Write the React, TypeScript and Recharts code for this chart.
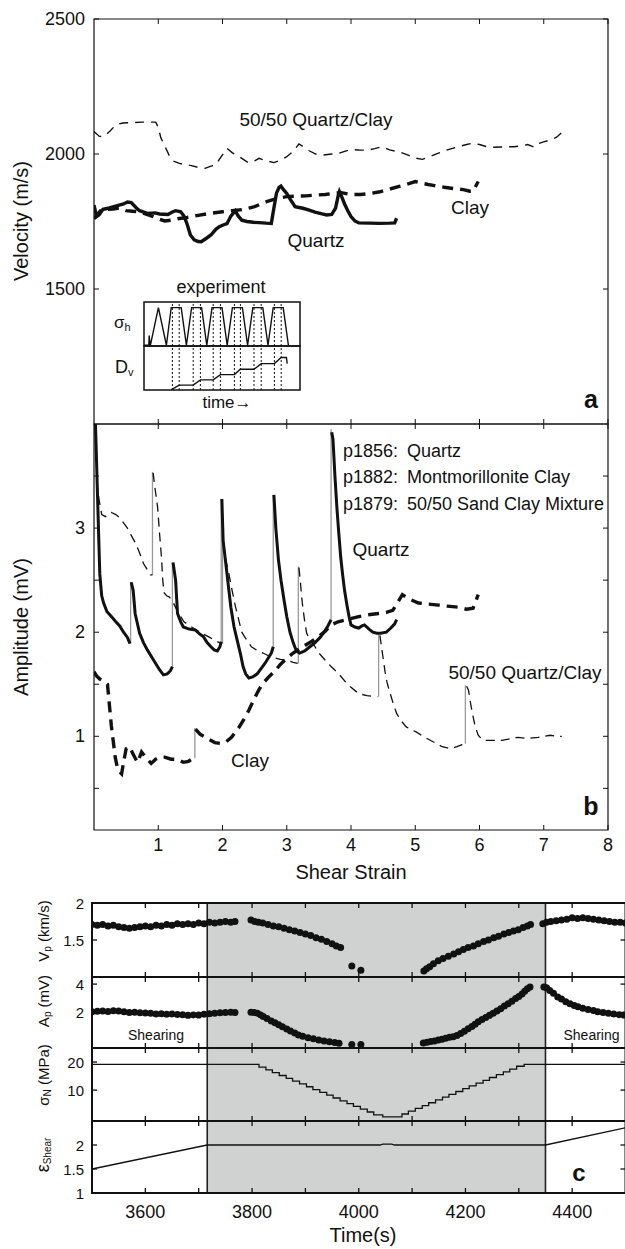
import React from 'react';
import {
  LineChart, Line, Scatter, XAxis, YAxis, ReferenceArea, ReferenceLine,
} from 'recharts';

const FONT = '"Liberation Sans", Arial, Helvetica, sans-serif';
const INK = '#111';
const JUMP = '#999';
const SHADE = '#d0d1d1';

type Pt = [number, number];

// ---------- panel a: velocity vs shear strain ----------
const strainTicks = [1, 2, 3, 4, 5, 6, 7, 8];
const velocityTicks = [1500, 2000, 2500];

const mixVelocity: Pt[] = [[0, 2083], [0.08, 2066], [0.15, 2064], [0.25, 2085], [0.34, 2108], [0.45, 2115], [0.58, 2116], [0.75, 2118], [0.96, 2118], [1.0, 2100], [1.04, 2060], [1.1, 2030], [1.17, 1995], [1.22, 1975], [1.33, 1965], [1.42, 1960], [1.5, 1958], [1.6, 1952], [1.73, 1947], [1.82, 1955], [1.89, 1959], [1.98, 1990], [2.07, 2021], [2.15, 2005], [2.26, 1990], [2.4, 1968], [2.5, 1975], [2.57, 1984], [2.68, 1975], [2.8, 1968], [2.88, 1975], [3.0, 1990], [3.1, 2010], [3.19, 2037], [3.27, 2025], [3.35, 2012], [3.45, 2000], [3.56, 1996], [3.7, 2000], [3.8, 2002], [3.9, 2010], [4.0, 2017], [4.12, 2015], [4.25, 2014], [4.37, 2020], [4.49, 2027], [4.6, 2015], [4.75, 2008], [4.9, 1995], [5.0, 1985], [5.11, 1980], [5.22, 1990], [5.35, 2002], [5.5, 2015], [5.67, 2027], [5.8, 2035], [5.89, 2040], [6.0, 2035], [6.1, 2028], [6.2, 2025], [6.35, 2026], [6.54, 2027], [6.65, 2030], [6.75, 2035], [6.85, 2025], [6.91, 2038], [7.0, 2045], [7.1, 2052], [7.2, 2062], [7.28, 2080], [7.28, 2098]];

const clayVelocity: Pt[] = [[0, 1760], [0.05, 1775], [0.1, 1790], [0.2, 1795], [0.3, 1796], [0.4, 1800], [0.5, 1790], [0.6, 1788], [0.71, 1785], [0.8, 1778], [0.9, 1770], [1.0, 1760], [1.1, 1752], [1.2, 1755], [1.3, 1760], [1.45, 1765], [1.6, 1772], [1.8, 1780], [2.0, 1786], [2.15, 1790], [2.3, 1794], [2.5, 1805], [2.6, 1815], [2.7, 1825], [2.8, 1832], [2.9, 1838], [3.0, 1842], [3.15, 1844], [3.3, 1845], [3.45, 1848], [3.6, 1850], [3.75, 1855], [3.85, 1857], [4.0, 1850], [4.15, 1850], [4.3, 1854], [4.45, 1860], [4.6, 1870], [4.75, 1880], [4.9, 1890], [5.0, 1898], [5.1, 1892], [5.2, 1887], [5.3, 1883], [5.45, 1877], [5.6, 1872], [5.75, 1868], [5.85, 1862], [5.9, 1862], [5.98, 1898]];

const quartzVelocity: Pt[] = [[0, 1811], [0.02, 1790], [0.04, 1768], [0.08, 1775], [0.14, 1795], [0.24, 1800], [0.35, 1808], [0.46, 1815], [0.52, 1822], [0.58, 1820], [0.66, 1800], [0.71, 1790], [0.83, 1780], [0.95, 1782], [1.02, 1778], [1.15, 1776], [1.22, 1785], [1.27, 1790], [1.35, 1786], [1.4, 1770], [1.45, 1740], [1.5, 1700], [1.56, 1682], [1.62, 1676], [1.67, 1675], [1.75, 1688], [1.82, 1700], [1.9, 1722], [1.95, 1731], [2.02, 1738], [2.07, 1742], [2.13, 1770], [2.2, 1790], [2.24, 1772], [2.3, 1755], [2.38, 1750], [2.48, 1747], [2.57, 1746], [2.68, 1744], [2.76, 1743], [2.8, 1800], [2.84, 1855], [2.88, 1876], [2.91, 1881], [2.95, 1868], [3.0, 1854], [3.06, 1830], [3.13, 1805], [3.25, 1799], [3.35, 1792], [3.44, 1785], [3.55, 1778], [3.62, 1774], [3.7, 1776], [3.76, 1800], [3.8, 1845], [3.82, 1861], [3.85, 1845], [3.9, 1815], [3.95, 1790], [4.0, 1768], [4.06, 1752], [4.12, 1745], [4.3, 1744], [4.43, 1743], [4.6, 1744], [4.68, 1745], [4.71, 1762]];

// inset schematic (arbitrary time units)
const insetStress: Pt[] = [[0, 0], [8, 0], [12, 0], [13, 0.26], [15, 0.02], [16, 0], [36, 1], [56, 0], [68, 1], [93, 1], [106, 0], [119, 1], [144, 1], [157, 0], [170, 1], [195, 1], [208, 0], [221, 1], [246, 1], [259, 0], [272, 1], [297, 1], [310, 0], [323, 1], [348, 1], [361, 0]];
const insetDisp: Pt[] = [[68, 0.01], [71, 0.02], [88, 0.11], [123, 0.11], [141, 0.23], [173, 0.23], [191, 0.35], [226, 0.35], [241, 0.47], [275, 0.47], [293, 0.6], [326, 0.6], [343, 0.74], [356, 0.74], [358, 0.6]];
const insetMarks = [71, 88, 123, 141, 173, 191, 226, 241, 275, 293, 326, 343];

// ---------- panel b: amplitude vs shear strain ----------
const amplitudeTicks = [0.5, 1, 1.5, 2, 2.5, 3, 3.5];
const amplitudeLabels = [1, 2, 3];

const quartzAmp: Pt[][] = [
  [[0.02, 4.05], [0.03, 3.85], [0.06, 3.2], [0.09, 2.56], [0.12, 2.35], [0.15, 2.28], [0.2, 2.2], [0.27, 2.15], [0.34, 2.1], [0.4, 2.06], [0.46, 2.0], [0.52, 1.95], [0.56, 1.89]],
  [[0.58, 2.48], [0.61, 2.4], [0.64, 2.18], [0.71, 1.99], [0.77, 1.9], [0.83, 1.83], [0.9, 1.76], [0.96, 1.7], [1.02, 1.64], [1.08, 1.59], [1.14, 1.6], [1.19, 1.63], [1.22, 1.67]],
  [[1.23, 2.67], [1.27, 2.5], [1.3, 2.18], [1.35, 2.1], [1.39, 2.05], [1.48, 2.03], [1.58, 2.02], [1.65, 1.98], [1.7, 1.96], [1.76, 1.9], [1.82, 1.86], [1.87, 1.83], [1.92, 1.82], [1.96, 1.86], [1.98, 1.91]],
  [[1.99, 3.28], [2.01, 2.88], [2.07, 2.56], [2.13, 2.24], [2.18, 2.05], [2.23, 1.92], [2.28, 1.79], [2.32, 1.67], [2.36, 1.6], [2.41, 1.56], [2.47, 1.57], [2.54, 1.6], [2.6, 1.65], [2.66, 1.7], [2.72, 1.76], [2.76, 1.8], [2.79, 1.86]],
  [[2.8, 3.32], [2.83, 3.0], [2.87, 2.7], [2.91, 2.5], [2.96, 2.3], [3.0, 2.15], [3.05, 2.0], [3.1, 1.9], [3.15, 1.82], [3.2, 1.8], [3.28, 1.82], [3.36, 1.86], [3.44, 1.9], [3.52, 1.95], [3.58, 2.0], [3.64, 2.06], [3.69, 2.12]],
  [[3.7, 3.92], [3.72, 3.85], [3.75, 3.5], [3.78, 3.2], [3.81, 2.95], [3.84, 2.72], [3.87, 2.55], [3.9, 2.4], [3.94, 2.25], [3.97, 2.15], [4.0, 2.07], [4.06, 2.05], [4.12, 2.04], [4.17, 2.06], [4.21, 2.07], [4.28, 2.03], [4.34, 2.0], [4.4, 1.99], [4.46, 1.99], [4.55, 2.0], [4.62, 2.04], [4.68, 2.08], [4.71, 2.12]],
];
const quartzJumps: [number, number, number][] = [[0.57, 1.89, 2.48], [1.22, 1.67, 2.67], [1.98, 1.91, 3.28], [2.79, 1.86, 3.32], [3.69, 2.12, 3.95]];

const clayAmp: Pt[][] = [
  [[0, 1.62], [0.04, 1.58], [0.09, 1.55], [0.15, 1.53], [0.21, 1.5], [0.24, 1.3], [0.27, 1.1], [0.3, 0.95], [0.33, 0.8], [0.37, 0.68], [0.43, 0.64], [0.46, 0.75], [0.5, 0.88], [0.55, 0.9], [0.6, 0.84], [0.65, 0.78], [0.68, 0.75], [0.74, 0.85], [0.8, 0.8], [0.89, 0.74], [0.96, 0.78], [1.02, 0.8], [1.1, 0.8], [1.2, 0.78], [1.3, 0.78], [1.39, 0.75], [1.47, 0.76], [1.55, 0.79]],
  [[1.58, 1.07], [1.65, 1.02], [1.76, 0.98], [1.88, 0.94], [1.98, 0.93], [2.06, 0.95], [2.14, 0.99], [2.2, 1.04], [2.26, 1.09], [2.34, 1.17], [2.41, 1.25], [2.51, 1.38], [2.57, 1.45], [2.63, 1.51], [2.72, 1.57], [2.82, 1.63], [2.9, 1.69], [3.0, 1.75], [3.1, 1.8], [3.25, 1.86], [3.38, 1.91], [3.5, 1.96], [3.6, 2.01], [3.69, 2.07], [3.8, 2.1], [3.93, 2.12], [4.12, 2.15], [4.3, 2.17], [4.43, 2.18], [4.55, 2.19], [4.65, 2.21], [4.72, 2.28], [4.8, 2.36], [4.9, 2.32], [5.05, 2.28], [5.2, 2.27], [5.36, 2.26], [5.5, 2.25], [5.67, 2.24], [5.8, 2.22], [5.9, 2.23], [5.98, 2.36]],
];
const clayJumps: [number, number, number][] = [[1.57, 0.79, 1.08]];

const mixAmp: Pt[][] = [
  [[0.04, 3.45], [0.08, 3.27], [0.12, 3.13], [0.18, 3.11], [0.27, 3.15], [0.34, 3.13], [0.4, 3.1], [0.46, 3.05], [0.52, 3.0], [0.58, 2.93], [0.65, 2.85], [0.71, 2.76], [0.77, 2.66], [0.83, 2.6], [0.88, 2.55], [0.91, 2.55]],
  [[0.92, 3.53], [0.95, 3.38], [0.99, 3.2], [1.02, 2.95], [1.05, 2.72], [1.07, 2.5], [1.09, 2.38], [1.13, 2.35], [1.17, 2.34], [1.22, 2.3], [1.3, 2.2], [1.4, 2.1], [1.52, 2.05], [1.65, 2.0], [1.8, 1.95], [1.95, 1.9], [1.99, 1.89]],
  [[2.01, 2.85], [2.05, 2.7], [2.1, 2.56], [2.15, 2.4], [2.2, 2.25], [2.26, 2.1], [2.3, 2.0], [2.35, 1.95], [2.45, 1.86], [2.55, 1.82], [2.63, 1.8], [2.76, 1.76], [2.9, 1.74], [3.0, 1.73], [3.1, 1.71], [3.17, 1.7]],
  [[3.19, 2.62], [3.21, 2.5], [3.23, 2.35], [3.25, 2.24], [3.28, 2.1], [3.31, 1.99], [3.36, 1.93], [3.41, 1.89], [3.5, 1.8], [3.6, 1.73], [3.69, 1.67], [3.81, 1.6], [3.93, 1.51], [4.0, 1.47], [4.12, 1.41], [4.25, 1.39], [4.41, 1.38]],
  [[4.45, 1.97], [4.47, 1.88], [4.5, 1.75], [4.53, 1.62], [4.56, 1.52], [4.6, 1.43], [4.65, 1.33], [4.71, 1.22], [4.78, 1.15], [4.86, 1.09], [4.95, 1.06], [5.02, 1.04], [5.12, 1.0], [5.24, 0.96], [5.33, 0.93], [5.42, 0.9], [5.55, 0.88], [5.65, 0.9], [5.73, 0.92], [5.77, 0.93]],
  [[5.8, 1.48], [5.83, 1.44], [5.86, 1.32], [5.89, 1.22], [5.93, 1.1], [5.98, 1.01], [6.04, 0.97], [6.1, 0.96], [6.2, 0.96], [6.35, 0.96], [6.5, 0.98], [6.6, 0.99], [6.75, 0.98], [6.91, 0.99], [7.0, 1.0], [7.1, 1.01], [7.2, 1.0], [7.28, 1.0]],
];
const mixJumps: [number, number, number][] = [[0.91, 2.55, 3.54], [2.0, 1.89, 2.9], [3.18, 1.7, 2.63], [4.43, 1.38, 1.99], [5.78, 0.93, 1.49]];

// ---------- panel c: p1856 normal stress cycle vs time ----------
const timeTicks = [3600, 3700, 3800, 3900, 4000, 4100, 4200, 4300, 4400];
const timeLabels = [3600, 3800, 4000, 4200, 4400];
const cycleStart = 3716;
const cycleEnd = 4350;

const vpPre: Pt[] = [[3500, 1.71], [3510, 1.70], [3520, 1.71], [3530, 1.69], [3540, 1.70], [3550, 1.68], [3560, 1.67], [3570, 1.66], [3580, 1.67], [3590, 1.68], [3600, 1.69], [3610, 1.68], [3620, 1.70], [3630, 1.69], [3640, 1.71], [3650, 1.70], [3660, 1.72], [3670, 1.71], [3680, 1.72], [3690, 1.71], [3700, 1.73], [3710, 1.72], [3720, 1.74], [3730, 1.73], [3740, 1.74], [3750, 1.75], [3760, 1.74], [3768, 1.75]];
const vpDown: Pt[] = [[3798, 1.77], [3805, 1.75], [3812, 1.74], [3820, 1.73], [3830, 1.71], [3840, 1.69], [3850, 1.68], [3860, 1.66], [3870, 1.64], [3880, 1.62], [3890, 1.60], [3900, 1.58], [3910, 1.56], [3920, 1.53], [3930, 1.51], [3940, 1.48], [3950, 1.45], [3958, 1.42], [3966, 1.40], [3987, 1.15], [4004, 1.09]];
const vpUp: Pt[] = [[4122, 1.08], [4127, 1.11], [4133, 1.14], [4140, 1.18], [4149, 1.22], [4158, 1.25], [4168, 1.28], [4178, 1.31], [4187, 1.34], [4196, 1.37], [4205, 1.40], [4215, 1.42], [4224, 1.45], [4234, 1.48], [4243, 1.50], [4253, 1.53], [4262, 1.55], [4272, 1.58], [4281, 1.60], [4290, 1.62], [4299, 1.64], [4308, 1.67], [4316, 1.69], [4322, 1.71]];
const vpPost: Pt[] = [[4345, 1.72], [4352, 1.74], [4360, 1.75], [4370, 1.76], [4380, 1.77], [4390, 1.78], [4400, 1.80], [4410, 1.79], [4420, 1.80], [4430, 1.79], [4440, 1.78], [4450, 1.77], [4460, 1.76], [4470, 1.75], [4480, 1.74], [4490, 1.74], [4500, 1.73]];

const apPre: Pt[] = [[3500, 2.05], [3510, 2.08], [3520, 2.1], [3530, 2.07], [3540, 2.12], [3550, 2.1], [3560, 2.05], [3570, 2.0], [3580, 2.02], [3590, 1.98], [3600, 1.97], [3610, 1.95], [3620, 1.9], [3630, 1.92], [3640, 1.88], [3650, 1.9], [3660, 1.86], [3670, 1.84], [3680, 1.8], [3690, 1.83], [3700, 1.82], [3710, 1.88], [3720, 1.92], [3730, 1.95], [3740, 1.98], [3750, 2.0], [3760, 2.02], [3768, 2.0]];
const apDown: Pt[] = [[3798, 2.02], [3804, 2.0], [3810, 1.95], [3816, 1.83], [3821, 1.72], [3828, 1.57], [3836, 1.4], [3843, 1.27], [3850, 1.13], [3857, 1.0], [3865, 0.83], [3872, 0.7], [3880, 0.55], [3887, 0.42], [3895, 0.32], [3905, 0.22], [3915, 0.15], [3925, 0.07], [3935, 0.0], [3945, -0.06], [3955, -0.12], [3963, -0.17], [3987, -0.25], [4004, -0.25]];
const apUp: Pt[] = [[4121, -0.15], [4128, -0.1], [4135, -0.05], [4142, 0.0], [4149, 0.06], [4156, 0.12], [4163, 0.18], [4170, 0.25], [4177, 0.3], [4184, 0.38], [4191, 0.52], [4198, 0.68], [4205, 0.85], [4212, 1.02], [4218, 1.18], [4224, 1.35], [4231, 1.5], [4238, 1.65], [4245, 1.8], [4252, 1.95], [4259, 2.1], [4266, 2.27], [4273, 2.45], [4280, 2.62], [4287, 2.8], [4294, 2.98], [4300, 3.13], [4306, 3.3], [4311, 3.5], [4316, 3.68], [4321, 3.8]];
const apPost: Pt[] = [[4347, 3.8], [4352, 3.75], [4358, 3.55], [4365, 3.35], [4373, 3.1], [4380, 2.95], [4388, 2.76], [4396, 2.62], [4404, 2.5], [4411, 2.41], [4420, 2.3], [4430, 2.22], [4440, 2.14], [4448, 2.06], [4458, 2.0], [4468, 1.95], [4478, 1.9], [4488, 1.85], [4497, 1.82]];

const sigmaN: Pt[] = [[3500, 19.2], [3800, 19.2], [3813, 18.2], [3826, 17.2], [3838, 16.2], [3851, 15.2], [3864, 14.2], [3876, 13.2], [3889, 12.2], [3902, 11.2], [3914, 10.2], [3927, 9.2], [3940, 8.2], [3952, 7.2], [3965, 6.2], [3978, 5.2], [3990, 4.2], [4003, 3.2], [4016, 2.2], [4028, 1.2], [4045, 0.5], [4068, 0.5], [4081, 1.5], [4093, 2.5], [4106, 3.5], [4119, 4.5], [4131, 5.5], [4144, 6.5], [4157, 7.5], [4169, 8.5], [4182, 9.5], [4195, 10.5], [4207, 11.5], [4220, 12.5], [4233, 13.5], [4245, 14.5], [4258, 15.5], [4271, 16.5], [4283, 17.5], [4296, 18.5], [4310, 19.2], [4500, 19.2]];
const shearStrain: Pt[] = [[3500, 1.5], [3716, 2.0], [4040, 2.0], [4045, 2.02], [4062, 2.02], [4067, 2.0], [4350, 2.0], [4500, 2.36]];

const toS = (pts: Pt[]) => pts.map(([s, v]) => ({ s, v }));
const toT = (pts: Pt[]) => pts.map(([t, v]) => ({ t, v }));
const jumpData = (j: [number, number, number]) => [{ s: j[0], v: j[1] }, { s: j[0], v: j[2] }];

const XTick = (props: any) => {
  const { x, y, payload, plotH, len = 5, labels = [], dy = 15, size = 18, sw = 1 } = props;
  const show = labels.includes(payload.value);
  return (
    <g>
      <line x1={x} x2={x} y1={y} y2={y - len} stroke={INK} strokeWidth={sw} />
      <line x1={x} x2={x} y1={y - plotH} y2={y - plotH + len} stroke={INK} strokeWidth={sw} />
      {show && (
        <text x={x} y={y + dy} textAnchor="middle" dominantBaseline="central" fontFamily={FONT} fontSize={size} fill={INK}>
          {payload.value}
        </text>
      )}
    </g>
  );
};

const YTick = (props: any) => {
  const { x, y, payload, plotW, gap, len = 5, labels = [], size = 18, sw = 1 } = props;
  const ax = x + gap;
  const show = labels.includes(payload.value);
  return (
    <g>
      <line x1={ax} x2={ax + len} y1={y} y2={y} stroke={INK} strokeWidth={sw} />
      <line x1={ax + plotW} x2={ax + plotW - len} y1={y} y2={y} stroke={INK} strokeWidth={sw} />
      {show && (
        <text x={x} y={y} textAnchor="end" dominantBaseline="central" fontFamily={FONT} fontSize={size} fill={INK}>
          {payload.value}
        </text>
      )}
    </g>
  );
};

const Dot = (p: any) => <circle cx={p.cx} cy={p.cy} r={3.5} fill={INK} />;

const T = ({ x, y, size = 18, anchor = 'middle', bold = false, children }: any) => (
  <text x={x} y={y} textAnchor={anchor} dominantBaseline="central" fontFamily={FONT} fontSize={size} fontWeight={bold ? 'bold' : 'normal'} fill={INK}>
    {children}
  </text>
);

const VText = ({ x, y, size = 15, children }: any) => (
  <text transform={`translate(${x},${y}) rotate(-90)`} textAnchor="middle" dominantBaseline="central" fontFamily={FONT} fontSize={size} fill={INK}>
    {children}
  </text>
);

const abs = (left: number, top: number): React.CSSProperties => ({ position: 'absolute', left, top });

// panel c subplot
const TimePanel = ({ top, plotH, xh, domain, ticks, labels, children, bottomLabels = [] }: any) => (
  <div style={abs(0, top)}>
    <LineChart width={640} height={plotH + xh} margin={{ top: 0, right: 14.5, bottom: 0, left: 0 }}>
      <XAxis type="number" dataKey="t" domain={[3500, 4500]} allowDataOverflow ticks={timeTicks} interval={0} height={xh}
        axisLine={false} tickLine={false} tickSize={0} tickMargin={0}
        tick={<XTick plotH={plotH} len={5} sw={1.3} labels={bottomLabels} dy={19} size={18} />} />
      <YAxis type="number" dataKey="v" domain={domain} allowDataOverflow ticks={ticks} interval={0} width={92}
        axisLine={false} tickLine={false} tickSize={0} tickMargin={8}
        tick={<YTick plotW={533.5} gap={8} len={5} sw={1.3} labels={labels} size={15} />} />
      <ReferenceArea x1={cycleStart} x2={cycleEnd} y1={domain[0]} y2={domain[1]} fill={SHADE} fillOpacity={1} stroke="#222" strokeWidth={1.6} />
      <ReferenceArea x1={3500} x2={4500} y1={domain[0]} y2={domain[1]} fill="none" stroke={INK} strokeWidth={2} />
      {children}
    </LineChart>
  </div>
);

export default function App() {
  return (
    <div style={{ position: 'fixed', left: 0, top: 0, width: 625, height: 1249, overflow: 'hidden', background: '#fff', fontFamily: FONT }}>
      <style>{'.recharts-surface{overflow:visible} html,body{overflow:hidden}'}</style>
      {/* panel a */}
      <div style={abs(0, 0)}>
        <LineChart width={625} height={430} margin={{ top: 19, right: 17, bottom: 0, left: 0 }}>
          <XAxis type="number" dataKey="s" domain={[0, 8]} allowDataOverflow ticks={strainTicks} interval={0} height={6}
            axisLine={false} tickLine={false} tickSize={0} tickMargin={0} tick={<XTick plotH={405} labels={[]} />} />
          <YAxis type="number" domain={[1000, 2500]} allowDataOverflow ticks={velocityTicks} interval={0} width={94}
            axisLine={false} tickLine={false} tickSize={0} tickMargin={9}
            tick={<YTick plotW={514} gap={9} labels={velocityTicks} />} />
          <ReferenceArea x1={0} x2={8} y1={1000} y2={2500} fill="none" stroke={INK} strokeWidth={1.2} />
          <Line data={toS(mixVelocity)} dataKey="v" stroke={INK} strokeWidth={1.4} strokeDasharray="9 7" dot={false} isAnimationActive={false} />
          <Line data={toS(clayVelocity)} dataKey="v" stroke={INK} strokeWidth={3.4} strokeDasharray="11 7" dot={false} isAnimationActive={false} />
          <Line data={toS(quartzVelocity)} dataKey="v" stroke={INK} strokeWidth={3.4} dot={false} isAnimationActive={false} />
          <T x={316} y={119} size={19}>50/50 Quartz/Clay</T>
          <T x={470} y={207} size={19}>Clay</T>
          <T x={316} y={240} size={19}>Quartz</T>
          <T x={591} y={399} size={25} bold>a</T>
          <T x={221} y={287} size={18}>experiment</T>
          <text x={114} y={322} dominantBaseline="central" fontFamily={FONT} fontSize={17} fill={INK}>σ<tspan fontSize={11} dy={5}>h</tspan></text>
          <text x={115} y={367} dominantBaseline="central" fontFamily={FONT} fontSize={18} fill={INK}>D<tspan fontSize={11} dy={5}>v</tspan></text>
          <T x={227} y={402} size={17}>time→</T>
          <VText x={21} y={221} size={20}>Velocity (m/s)</VText>
        </LineChart>
      </div>

      {/* inset schematic */}
      <div style={abs(144, 302)}>
        <LineChart width={156} height={44} margin={{ top: 0, right: 0, bottom: 0, left: 0 }}>
          <XAxis type="number" dataKey="s" domain={[0, 390]} allowDataOverflow hide />
          <YAxis type="number" domain={[-0.02, 1.15]} allowDataOverflow hide />
          {insetMarks.map((m) => (
            <ReferenceLine key={m} x={m} stroke={INK} strokeWidth={1} strokeDasharray="2 2" />
          ))}
          <ReferenceArea x1={0} x2={390} y1={-0.02} y2={1.15} fill="none" stroke={INK} strokeWidth={1.5} />
          <Line data={toS(insetStress)} dataKey="v" stroke={INK} strokeWidth={1.4} dot={false} isAnimationActive={false} />
        </LineChart>
      </div>
      <div style={abs(144, 346)}>
        <LineChart width={156} height={44} margin={{ top: 0, right: 0, bottom: 0, left: 0 }}>
          <XAxis type="number" dataKey="s" domain={[0, 390]} allowDataOverflow hide />
          <YAxis type="number" domain={[0, 1]} allowDataOverflow hide />
          {insetMarks.map((m) => (
            <ReferenceLine key={m} x={m} stroke={INK} strokeWidth={1} strokeDasharray="2 2" />
          ))}
          <ReferenceArea x1={0} x2={390} y1={0} y2={1} fill="none" stroke={INK} strokeWidth={1.5} />
          <Line data={toS(insetDisp)} dataKey="v" stroke={INK} strokeWidth={1.4} dot={false} isAnimationActive={false} />
        </LineChart>
      </div>

      {/* panel b */}
      <div style={abs(0, 424)}>
        <LineChart width={625} height={462} margin={{ top: 0, right: 17, bottom: 0, left: 0 }}>
          <XAxis type="number" dataKey="s" domain={[0, 8]} allowDataOverflow ticks={strainTicks} interval={0} height={56}
            axisLine={false} tickLine={false} tickSize={0} tickMargin={0}
            tick={<XTick plotH={406} labels={strainTicks} dy={15} size={18} />} />
          <YAxis type="number" domain={[0.1, 4]} allowDataOverflow ticks={amplitudeTicks} interval={0} width={94}
            axisLine={false} tickLine={false} tickSize={0} tickMargin={9}
            tick={<YTick plotW={514} gap={9} labels={amplitudeLabels} />} />
          <ReferenceArea x1={0} x2={8} y1={0.1} y2={4} fill="none" stroke={INK} strokeWidth={1.2} />
          {[...quartzJumps, ...clayJumps, ...mixJumps].map((j, i) => (
            <Line key={`j${i}`} data={jumpData(j)} dataKey="v" stroke={JUMP} strokeWidth={1.3} dot={false} isAnimationActive={false} />
          ))}
          {mixAmp.map((seg, i) => (
            <Line key={`m${i}`} data={toS(seg)} dataKey="v" stroke={INK} strokeWidth={1.3} strokeDasharray="9 6" dot={false} isAnimationActive={false} />
          ))}
          {clayAmp.map((seg, i) => (
            <Line key={`c${i}`} data={toS(seg)} dataKey="v" stroke={INK} strokeWidth={3.4} strokeDasharray="11 7" dot={false} isAnimationActive={false} />
          ))}
          {quartzAmp.map((seg, i) => (
            <Line key={`q${i}`} data={toS(seg)} dataKey="v" stroke={INK} strokeWidth={3} dot={false} isAnimationActive={false} />
          ))}
          <T x={343} y={26.5} anchor="start">p1856:</T>
          <T x={407} y={26.5} anchor="start">Quartz</T>
          <T x={343} y={52.5} anchor="start">p1882:</T>
          <T x={407} y={52.5} anchor="start">Montmorillonite Clay</T>
          <T x={343} y={79.5} anchor="start">p1879:</T>
          <T x={407} y={79.5} anchor="start">50/50 Sand Clay Mixture</T>
          <T x={381} y={125.5} size={19}>Quartz</T>
          <T x={525} y={248} size={19}>50/50 Quartz/Clay</T>
          <T x={250} y={336.5} size={19}>Clay</T>
          <T x={591} y={382} size={25} bold>b</T>
          <T x={351} y={448} size={20}>Shear Strain</T>
          <VText x={21} y={203} size={20}>Amplitude (mV)</VText>
        </LineChart>
      </div>

      {/* panel c */}
      <TimePanel top={903} plotH={74} xh={2} domain={[1, 2]} ticks={[1.5, 2]} labels={[1.5, 2]}>
        <Scatter data={toT([...vpPre, ...vpDown, ...vpUp, ...vpPost])} shape={<Dot />} isAnimationActive={false} />
        <VText x={43} y={28} size={15}>V<tspan fontSize={10} dy={4}>p</tspan><tspan dy={-4}> (km/s)</tspan></VText>
      </TimePanel>
      <TimePanel top={977} plotH={71} xh={2} domain={[-0.5, 4.5]} ticks={[2, 4]} labels={[2, 4]}>
        <Scatter data={toT([...apPre, ...apDown, ...apUp, ...apPost])} shape={<Dot />} isAnimationActive={false} />
        <T x={387} y={33} size={14}>Normal Stress Cycle</T>
        <T x={156} y={58} size={14}>Shearing</T>
        <T x={591.5} y={58} size={14}>Shearing</T>
        <VText x={43} y={24} size={15}>A<tspan fontSize={10} dy={4}>p</tspan><tspan dy={-4}> (mV)</tspan></VText>
      </TimePanel>
      <TimePanel top={1048} plotH={73} xh={2} domain={[-1, 25]} ticks={[10, 20]} labels={[10, 20]}>
        <Line data={toT(sigmaN)} dataKey="v" type="stepAfter" stroke={INK} strokeWidth={1.3} dot={false} isAnimationActive={false} />
        <VText x={43} y={27} size={15}>σ<tspan fontSize={10} dy={4}>N</tspan><tspan dy={-4}> (MPa)</tspan></VText>
      </TimePanel>
      <TimePanel top={1121} plotH={72} xh={56} domain={[1, 2.5]} ticks={[1, 1.5, 2]} labels={[1, 1.5, 2]} bottomLabels={timeLabels}>
        <Line data={toT(shearStrain)} dataKey="v" stroke={INK} strokeWidth={1.3} dot={false} isAnimationActive={false} />
        <T x={483} y={51} size={18}>p1856: Quartz</T>
        <T x={579} y={51} size={24} bold>c</T>
        <T x={363} y={114} size={20}>Time(s)</T>
        <VText x={43} y={34} size={18}>ε<tspan fontSize={10} dy={4}>Shear</tspan></VText>
      </TimePanel>
    </div>
  );
}
